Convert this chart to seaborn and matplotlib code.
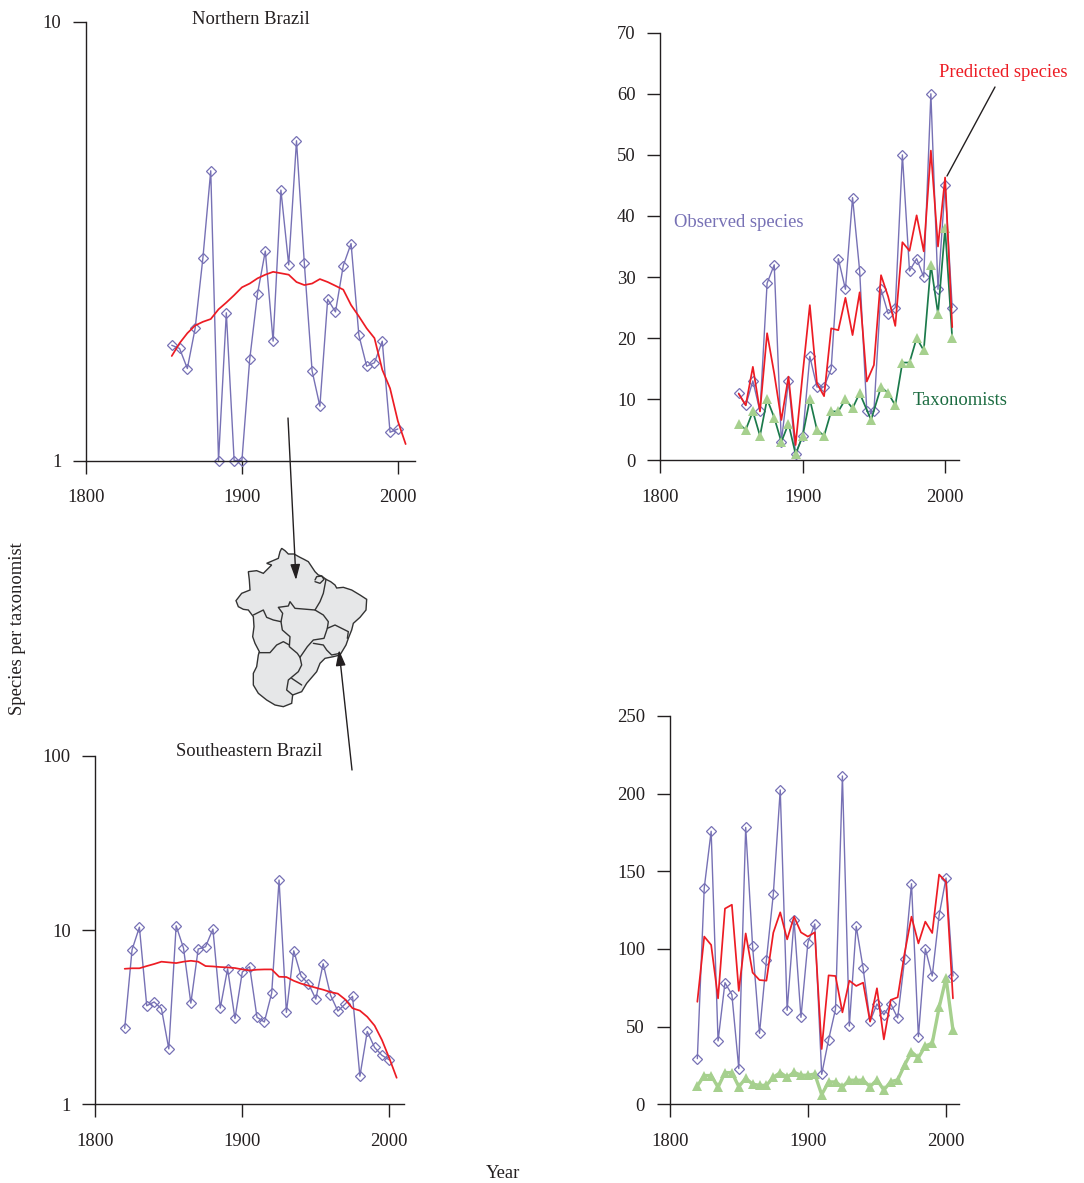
import matplotlib
matplotlib.use("Agg")
import matplotlib.pyplot as plt
import seaborn as sns
from matplotlib.patches import Polygon
from matplotlib.ticker import NullLocator

W, H = 1084, 1183

# years, every 5 from 1820 to 2005
years = [1820, 1825, 1830, 1835, 1840, 1845, 1850, 1855, 1860, 1865, 1870, 1875, 1880,
         1885, 1890, 1895, 1900, 1905, 1910, 1915, 1920, 1925, 1930, 1935, 1940, 1945,
         1950, 1955, 1960, 1965, 1970, 1975, 1980, 1985, 1990, 1995, 2000, 2005]
years_north = years[7:]

# northern brazil, species per taxonomist
north_ratio_obs = [1.83, 1.80, 1.62, 2.00, 2.90, 4.57, 1.0, 2.17, 1.0, 1.0, 1.70, 2.40, 3.00,
                   1.87, 4.13, 2.79, 5.35, 2.82, 1.60, 1.33, 2.33, 2.18, 2.78, 3.12, 1.93,
                   1.64, 1.67, 1.87, 1.16, 1.18]
north_ratio_pred = [1.73, 1.85, 1.95, 2.03, 2.07, 2.10, 2.21, 2.29, 2.38, 2.48, 2.53, 2.60,
                    2.65, 2.69, 2.67, 2.65, 2.55, 2.51, 2.53, 2.59, 2.55, 2.50, 2.45, 2.26,
                    2.13, 2.00, 1.90, 1.61, 1.46, 1.23, 1.09]

# northern brazil, counts
north_obs = [11, 9, 13, 8, 29, 32, 3, 13, 1, 4, 17, 12, 12, 15, 33, 28, 43, 31, 8, 8, 28, 24,
             25, 50, 31, 33, 30, 60, 28, 45, 25]
north_pred = [10.9, 9, 15.3, 8, 20.8, 14.2, 6.6, 13.7, 2.5, 14.2, 25.4, 12.6, 10.5, 21.6, 21.3,
              26.6, 20.5, 27.5, 12.9, 15.6, 30.3, 26.8, 22, 35.7, 34.3, 40.1, 34.2, 50.7, 35,
              46.3, 21.8]
north_tax_years = [1855, 1860, 1865, 1870, 1875, 1880, 1885, 1890, 1895, 1900, 1905, 1910, 1915,
                   1920, 1925, 1930, 1935, 1940, 1948, 1955, 1960, 1965, 1970, 1975, 1980, 1985,
                   1990, 1995, 2000, 2005]
north_tax = [6, 5, 8, 4, 10, 7, 3, 6, 1, 4, 10, 5, 4, 8, 8, 10, 8.5, 11, 6.6, 12, 11, 9, 16, 16,
             20, 18, 32, 24, 38, 20]

# southeastern brazil, species per taxonomist
se_ratio_obs = [2.73, 7.72, 10.4, 3.68, 3.87, 3.54, 2.08, 10.6, 7.89, 3.81, 7.79, 8.03, 10.14,
                3.57, 6.0, 3.11, 5.75, 6.17, 3.16, 2.97, 4.35, 19.4, 3.37, 7.61, 5.45, 4.93,
                4.02, 6.42, 4.24, 3.43, 3.77, 4.17, 1.45, 2.62, 2.12, 1.91, 1.80]
se_ratio_pred = [6.0, 6.04, 6.04, 6.22, 6.39, 6.59, 6.53, 6.47, 6.59, 6.67, 6.59, 6.22, 6.19,
                 6.14, 6.11, 6.06, 5.95, 5.87, 5.93, 5.95, 5.95, 5.40, 5.38, 5.12, 4.93, 4.80,
                 4.67, 4.55, 4.41, 4.32, 4.0, 3.56, 3.45, 3.18, 2.83, 2.34, 1.84, 1.42]

# southeastern brazil, counts
se_obs = [29.4, 139.3, 175.8, 40.8, 78.3, 70.6, 23, 178.3, 101.7, 45.7, 92.9, 135.4, 202.4, 60.5,
          118.7, 56, 103.9, 116.1, 19.3, 41.6, 61.2, 211.4, 50.4, 114.6, 87.6, 53.4, 64.6, 57.7,
          64.6, 55.6, 93.3, 142, 43.6, 100.2, 82.6, 121.7, 145.7, 82.6]
se_pred = [66, 108, 102.6, 68.2, 126, 128.5, 73, 110, 84.8, 80, 79.6, 110.5, 123.6, 106.2, 120.8,
           110.7, 108, 110.7, 35.6, 83, 82.6, 59.2, 79.6, 76.2, 78.3, 53.2, 74.7, 41.8, 67.2, 68.9,
           97.2, 120.8, 103.6, 117.6, 110.3, 147.9, 143.3, 68.2]
se_tax = [11.8, 18.5, 18.5, 11, 20.4, 20.4, 11.4, 16.7, 13, 12.2, 12.2, 17.4, 20.4, 17.4, 20.6,
          18.7, 18.7, 19.5, 6.2, 14.4, 14.4, 11.2, 15.5, 15.5, 15.5, 11.4, 15.7, 9.2, 14.6, 15.7,
          25.3, 33.7, 30, 37.6, 39.3, 62.4, 81.3, 47.9]

# map sketch, traced at 3x from an origin of (220, 530)
map_outline = [(185, 55), (195, 62), (205, 72), (222, 72), (240, 82), (252, 88), (265, 95), (275, 110),
               (285, 125), (295, 135), (305, 138), (318, 148), (332, 155), (345, 165), (350, 174),
               (370, 172), (395, 180), (420, 195), (440, 208), (438, 240), (420, 262), (400, 280),
               (395, 300), (385, 325), (378, 345), (360, 375), (340, 380), (315, 385), (300, 400),
               (290, 425), (260, 460), (245, 485), (218, 495), (215, 520), (190, 530), (165, 525),
               (140, 510), (115, 490), (100, 465), (100, 430), (110, 410), (115, 375), (118, 365),
               (105, 340), (98, 320), (102, 290), (100, 260), (85, 240), (70, 238), (55, 230),
               (48, 212), (65, 190), (90, 180), (88, 150), (85, 125), (110, 122), (130, 130),
               (155, 105), (140, 100), (175, 85), (180, 65)]
map_borders = [
    [(318, 148), (310, 190), (300, 215), (285, 240)],
    [(100, 255), (130, 240), (140, 262), (160, 270), (183, 275), (187, 300), (210, 320), (208, 350),
     (232, 370), (240, 382), (245, 405), (235, 425), (205, 450), (200, 480), (218, 495)],
    [(183, 275), (188, 250), (175, 232), (205, 228), (210, 215), (225, 235), (285, 240), (310, 255),
     (325, 275), (322, 295), (312, 325), (280, 330), (262, 350), (240, 382)],
    [(118, 368), (150, 368), (170, 345), (190, 335), (208, 345)],
    [(280, 340), (310, 345), (320, 360), (335, 375), (360, 370)],
    [(322, 295), (345, 285), (385, 305), (382, 325)],
    [(285, 150), (290, 140), (305, 138), (312, 148), (300, 160), (285, 155)],
    [(215, 445), (245, 465)],
]

purple = "#7771B5"
red = "#ED1C24"
dark_green = "#1B7A4B"
light_green = "#A6D08E"
ink = "#231F20"

sns.set_style("ticks")
plt.rcParams["font.family"] = ["Liberation Serif", "DejaVu Serif"]
plt.rcParams["font.size"] = 13.4
plt.rcParams["text.color"] = ink


def make_panel(fig, left, right, top, bottom, xmax, yticks, ylabels, log=False, ymax=None):
    ax = fig.add_axes([left / W, 1 - bottom / H, (right - left) / W, (bottom - top) / H])
    ax.patch.set_alpha(0)
    if log:
        ax.set_yscale("log")
    return ax, xmax, yticks, ylabels


def finish_panel(ax, xmax, yticks, ylabels):
    ax.set_xlim(1800, xmax)
    ax.set_ylim(yticks[0], yticks[-1])
    ax.set_xticks([1800, 1900, 2000])
    ax.set_xticklabels(["1800", "1900", "2000"])
    ax.set_yticks(yticks)
    ax.set_yticklabels(ylabels)
    ax.yaxis.set_minor_locator(NullLocator())
    ax.xaxis.set_minor_locator(NullLocator())
    ax.set_xlabel("")
    ax.set_ylabel("")
    sns.despine(ax=ax)
    for side in ["left", "bottom"]:
        ax.spines[side].set_linewidth(1.0)
        ax.spines[side].set_color(ink)
    ax.tick_params(axis="both", length=9.7, width=1.0, color=ink, labelcolor=ink, labelsize=13.4)
    ax.tick_params(axis="x", pad=11)
    ax.tick_params(axis="y", pad=8)


def draw_observed(ax, x, y):
    sns.lineplot(x=x, y=y, ax=ax, color=purple, lw=1.0, marker="D", ms=4.6, mfc="white", mec=purple,
                 mew=0.9, errorbar=None, legend=False, clip_on=False)
    ax.lines[-1].set_markerfacecolor("none")


def draw_predicted(ax, x, y):
    sns.lineplot(x=x, y=y, ax=ax, color=red, lw=1.25, errorbar=None, legend=False, clip_on=False)


def draw_taxonomists(ax, x, y, line_color, lw):
    sns.lineplot(x=x, y=y, ax=ax, color=line_color, lw=lw, marker="^", ms=6.5, mfc=light_green,
                 mec=light_green, mew=0, errorbar=None, legend=False, clip_on=False)


fig = plt.figure(figsize=(W / 100, H / 100), dpi=100, facecolor="white")

# top left
ax, xmax, yt, yl = make_panel(fig, 86, 415, 21.5, 460.5, 2011, [1, 10], ["1", "10"], log=True)
draw_observed(ax, years_north[:-1], north_ratio_obs)
draw_predicted(ax, years_north, north_ratio_pred)
finish_panel(ax, xmax, yt, yl)

# top right
ax, xmax, yt, yl = make_panel(fig, 660.3, 958.5, 32.7, 460.3, 2009.4,
                              [0, 10, 20, 30, 40, 50, 60, 70],
                              ["0", "10", "20", "30", "40", "50", "60", "70"])
draw_observed(ax, years_north, north_obs)
draw_taxonomists(ax, north_tax_years, north_tax, dark_green, 1.25)
draw_predicted(ax, years_north, north_pred)
finish_panel(ax, xmax, yt, yl)

# bottom left
ax, xmax, yt, yl = make_panel(fig, 95.3, 404, 756, 1104.3, 2010, [1, 10, 100], ["1", "10", "100"], log=True)
draw_observed(ax, years[:-1], se_ratio_obs)
draw_predicted(ax, years, se_ratio_pred)
finish_panel(ax, xmax, yt, yl)

# bottom right
ax, xmax, yt, yl = make_panel(fig, 669.7, 959.3, 716, 1104.3, 2009.6,
                              [0, 50, 100, 150, 200, 250],
                              ["0", "50", "100", "150", "200", "250"])
draw_taxonomists(ax, years, se_tax, light_green, 2.4)
draw_observed(ax, years, se_obs)
draw_predicted(ax, years, se_pred)
finish_panel(ax, xmax, yt, yl)

# overlay in pixel coordinates for the map, arrows and labels
over = fig.add_axes([0, 0, 1, 1], zorder=5)
over.set_xlim(0, W)
over.set_ylim(H, 0)
over.axis("off")
over.patch.set_alpha(0)


def to_px(points):
    return [(220 + px / 3, 530 + py / 3) for px, py in points]


over.add_patch(Polygon(to_px(map_outline), closed=True, facecolor="#E6E7E8", edgecolor="#333333", lw=1.0))
for border in map_borders:
    xs, ys = zip(*to_px(border))
    over.plot(xs, ys, color="#333333", lw=1.0)

arrow_style = dict(arrowstyle="-|>,head_length=0.7,head_width=0.22", color=ink, lw=1.0, shrinkA=0, shrinkB=0)
over.annotate("", xy=(296, 580), xytext=(288, 418), arrowprops=arrow_style)
over.annotate("", xy=(339, 650), xytext=(352, 770), arrowprops=arrow_style)
over.plot([995, 947], [87, 176], color=ink, lw=1.0)

over.text(251, 19, "Northern Brazil", ha="center", va="center", fontsize=13.4)
over.text(249, 751, "Southeastern Brazil", ha="center", va="center", fontsize=13.4)
over.text(739, 222, "Observed species", ha="center", va="center", fontsize=13.4, color=purple)
over.text(1003, 72, "Predicted species", ha="center", va="center", fontsize=13.4, color=red)
over.text(960, 400, "Taxonomists", ha="center", va="center", fontsize=13.4, color="#1B6B40")
over.text(18, 629, "Species per taxonomist", ha="center", va="center", rotation=90, fontsize=13.4)
over.text(503, 1174, "Year", ha="center", va="center", fontsize=13.4)

fig.savefig("out.png", dpi=100)
